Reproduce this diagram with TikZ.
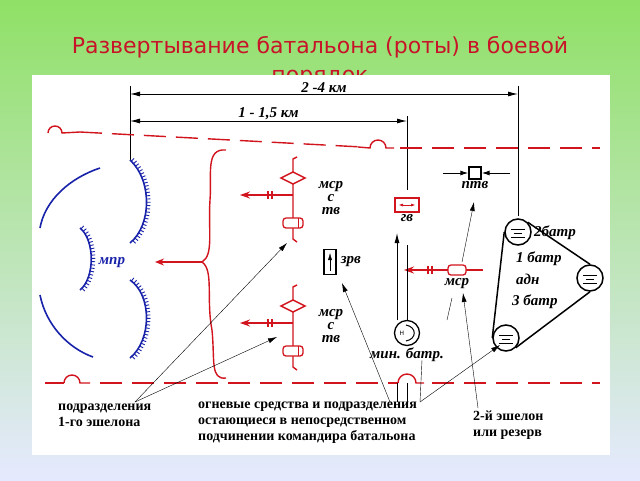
\documentclass[tikz,border=0pt]{standalone}
\usepackage{fontspec}
\setmainfont{Liberation Serif}
\newfontfamily\titlefont{DejaVu Sans}
\usetikzlibrary{positioning,decorations.markings,arrows.meta}
\definecolor{milred}{RGB}{210,20,30}
\definecolor{milblue}{RGB}{25,35,170}
\definecolor{titlered}{RGB}{200,20,40}
\begin{document}
\begin{tikzpicture}[x=1pt,y=-1pt,
redline/.style={draw=milred, line width=1.4pt},
reddash/.style={draw=milred, line width=1.4pt, dash pattern=on 22pt off 10pt},
blueline/.style={draw=milblue, line width=1.6pt},
toothed/.style={blueline, postaction={decorate}, decoration={markings,
  mark=between positions 0.02 and 0.98 step 3.2pt with {\draw[milblue, line width=0.9pt] (0,0)--(0,4pt);}}},
pointer/.style={draw=black, thin, -{Latex[length=9pt,width=5pt]}},
dimline/.style={draw=black, line width=0.9pt},
label/.style={font=\itshape\fontsize{15}{13}\selectfont\bfseries, align=center, inner sep=1pt},
note/.style={font=\bfseries\fontsize{14}{16}\selectfont, align=left, inner sep=0pt},
tankbox/.style={draw=milred, line width=1.3pt, rounded corners=3pt, minimum width=20pt, minimum height=10pt, inner sep=0pt},
batr/.style={circle, draw=black, line width=1.5pt, minimum size=26pt, inner sep=0pt},
]
% background
\shade[top color=green!55!lime!80!black!60, bottom color=cyan!15!blue!10] (0,0) rectangle (640,480);
\useasboundingbox (0,0) rectangle (640,480);
\node[font=\titlefont\fontsize{22}{29}\selectfont, text=titlered, align=center] (title) at (320,62)
  {Развертывание батальона (роты) в боевой\\порядок};
\fill[white] (32,75) rectangle (610,455);

%Dimension lines
\coordinate (d0t) at (130,86);
\coordinate (d0b) at (130,160);
\coordinate (d1t) at (407,116);
\coordinate (d1b) at (407,190);
\coordinate (d2t) at (518,86);
\coordinate (d2b) at (518,216);
\draw[dimline] (d0t) -- (d0b);
\draw[dimline] (d1t) -- (d1b);
\draw[dimline] (d2t) -- (d2b);
\draw[dimline, {Latex[length=10pt,width=5pt]}-{Latex[length=10pt,width=5pt]}] (130,94) -- node[label, above=0pt] (far) {2 -4 км} (518,94);
\draw[dimline, {Latex[length=10pt,width=5pt]}-{Latex[length=10pt,width=5pt]}] (130,121) -- node[label, above=0pt, pos=0.5] (near) {1 - 1,5 км} (407,121);

%Red boundary lines
\draw[redline] (48,133) arc (180:360:7) -- (80,132);
\draw[reddash] (80,132) -- (362,147);
\draw[redline] (358,147) -- (370,148) arc (180:360:8) -- (394,148);
\draw[reddash] (400,148) -- (600,148);
\draw[reddash] (45,383) -- (64,383);
\draw[redline] (64,383) arc (180:360:8) -- (90,383);
\draw[reddash] (100,383) -- (398,383);
\draw[redline] (398,383) arc (180:360:9) -- (424,383);
\draw[reddash] (432,383) -- (600,383);

%First echelon (blue)
\draw[blueline] (100,168) .. controls (70,178) and (45,200) .. (40,228);
\draw[blueline] (40,295) .. controls (46,325) and (68,348) .. (93,357);
\draw[toothed] (130,160) .. controls (152,180) and (152,225) .. (130,243);
\draw[toothed] (80,228) .. controls (95,240) and (95,278) .. (80,290);
\draw[toothed] (130,280) .. controls (152,295) and (152,340) .. (130,358);
\node[label, text=milblue] (mpr) at (112,263) {мпр};

%Brace and attack arrow
\draw[redline] (226,150) .. controls (205,148) and (212,175) .. (210,200)
  .. controls (208,230) and (214,255) .. (202,262)
  .. controls (214,270) and (206,300) .. (212,330)
  .. controls (215,360) and (210,380) .. (226,378);
\draw[redline, -{Stealth[length=9pt,width=7pt]}] (202,262) -- (155,262);

%Motor rifle companies with tanks
\foreach \y/\nm in {195/msrA, 323/msrB}{
  \draw[redline] (297,\y-38) -- (293,\y-36) -- (293,\y+44) -- (297,\y+47);
  \draw[redline, fill=white] (281,\y-17) -- (293,\y-23) -- (305,\y-17) -- (293,\y-11) -- cycle;
  \draw[redline, -{Stealth[length=10pt,width=7pt]}] (293,\y) -- (240,\y);
  \draw[milred, line width=1.2pt] (268,\y-4) -- (268,\y+4) (272,\y-4) -- (272,\y+4);
  \node[tankbox, fill=white] (\nm t) at (293,\y+28) {};
  \draw[milred, line width=1pt] (298,\y+23) -- (298,\y+33);
  \node[label] (\nm) at (331,\y+3) {мср\\с\\тв};
}

%Anti-aircraft, grenade launchers, anti-tank
\node[draw, line width=1.3pt, minimum width=12pt, minimum height=25pt, inner sep=0pt] (zrvbox) at (330,262) {};
\draw[-{Latex[length=7pt,width=4pt]}] (330,271) -- (330,253);
\node[label, right=3pt of zrvbox] (zrv) {зрв};
\node[draw=milred, line width=1.4pt, minimum width=24pt, minimum height=14pt, inner sep=0pt] (gv) at (407,205) {};
\draw[milred, line width=1pt, {Latex[length=5pt,width=3pt]}-{Latex[length=5pt,width=3pt]}] (398,205) -- (416,205);
\node[label, below=1pt of gv] (gvlab) {гв};
\node[draw, line width=1.3pt, minimum size=12pt, inner sep=0pt] (ptv) at (475,173) {};
\draw[-{Latex[length=8pt,width=5pt]}, line width=1pt] (443,173) -- (ptv.west);
\draw[-{Latex[length=8pt,width=5pt]}, line width=1pt] (510,173) -- (ptv.east);
\node[label, below=1pt of ptv] (ptvlab) {птв};

%Second echelon company
\draw[redline, -{Stealth[length=10pt,width=7pt]}] (483,270) -- (404,270);
\draw[milred, line width=1.2pt] (428,266) -- (428,274) (432,266) -- (432,274);
\node[tankbox, fill=white, minimum width=18pt] (msrCt) at (457,270) {};
\node[label, below=2pt of msrCt] (msrC) {мср};

%Mortar battery
\node[batr, minimum size=25pt, line width=1.3pt] (minb) at (407,333) {};
\node[font=\titlefont\fontsize{6}{6}\selectfont] at (402,333) {Н};
\draw[line width=1pt] (406,325) .. controls (417,327) and (417,339) .. (406,341);
\node[label, below=0pt of minb] (minlab) {мин. батр.};
\draw[dimline, -{Latex[length=10pt,width=5pt]}] (397,320) -- (397,233);
\draw[dimline] (407,245) -- (minb.north);

%Artillery battalion
\node[batr] (b1) at (518,232) {};
\node[batr] (b2) at (590,278) {};
\node[batr] (b3) at (506,338) {};
\foreach \b in {b1,b2,b3}{
  \draw[line width=1pt] ([xshift=-7pt,yshift=3pt]\b.center) -- ([xshift=7pt,yshift=3pt]\b.center);
  \draw[line width=1pt] ([xshift=-4pt,yshift=-1pt]\b.center) -- ([xshift=4pt,yshift=-1pt]\b.center);
  \draw[line width=1pt] ([xshift=-7pt,yshift=-5pt]\b.center) -- ([xshift=7pt,yshift=-5pt]\b.center);
}
\draw[line width=1.5pt] (b1.west) -- (b3.west);
\draw[line width=1.5pt] (b1.north east) -- (b2.north);
\draw[line width=1.5pt] (b2.south) -- (b3.south east);
\node[label, anchor=west] (l2b) at (533,233) {2батр};
\node[label, anchor=west] (l1b) at (515,259) {1 батр};
\node[label, anchor=west] (ladn) at (515,279) {адн};
\node[label, anchor=west] (l3b) at (511,302) {3 батр};

%Notes
\node[note, anchor=north west] (first) at (58,404) {подразделения\\1-го эшелона};
\node[note, anchor=north west] (fire) at (198,402) {огневые средства и подразделения\\остающиеся в непосредственном\\подчинении командира батальона};
\node[note, anchor=north west] (second) at (473,411) {2-й эшелон\\или резерв};

%Pointers
\coordinate (pf) at (135,402);
\coordinate (pm) at (390,402);
\coordinate (pm2) at (420,402);
\coordinate (ps) at (478,408);
\draw[pointer] (pf) -- (287,243);
\draw[pointer] (pf) -- (277,337);
\draw[pointer] (pm) -- (342,283);
\draw[pointer] (pm2) -- (500,345);
\draw[thin] (pm2) -- (422,360);
\draw[thin] (397,383) -- (397,402) (407,383) -- (407,402);
\draw[pointer] (ps) -- (463,293);
\draw[thin] (447,320) -- (452,298);
\draw[pointer] (462,262) -- (474,202);
\end{tikzpicture}
\end{document}
